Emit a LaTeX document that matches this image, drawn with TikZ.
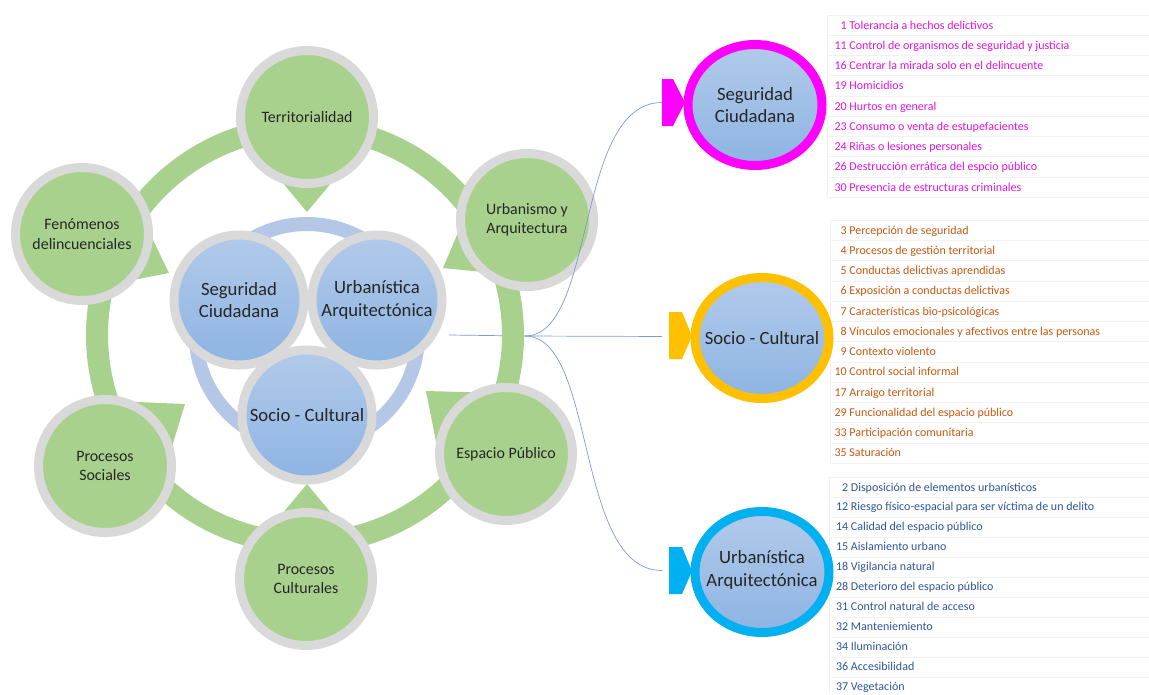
\documentclass[tikz,border=0pt]{standalone}
\usepackage{fontspec}
\setmainfont{Carlito}
\usetikzlibrary{shapes.geometric}
\definecolor{grn}{RGB}{169,209,142}
\definecolor{gry}{RGB}{217,217,217}
\definecolor{bluetop}{RGB}{178,202,234}
\definecolor{bluebot}{RGB}{141,180,226}
\definecolor{bring}{RGB}{180,199,231}
\definecolor{connc}{RGB}{125,155,215}
\definecolor{pinkc}{RGB}{255,0,255}
\definecolor{goldc}{RGB}{255,192,0}
\definecolor{cyanc}{RGB}{0,176,240}
\definecolor{pinkt}{RGB}{225,20,225}
\definecolor{oranget}{RGB}{197,90,17}
\definecolor{bluet}{RGB}{47,85,151}
\begin{document}
\begin{tikzpicture}[x=1pt,y=-1pt,
  greencirc/.style={circle, fill=grn, draw=gry, line width=9pt, minimum size=133pt, inner sep=0pt, align=center, font=\fontsize{15.9}{19.3}\selectfont, text=black!85},
  bluecirc/.style={circle, top color=bluetop, bottom color=bluebot, draw=gry, line width=9pt, minimum size=130pt, inner sep=0pt, align=center, font=\fontsize{18.7}{22.7}\selectfont, text=black!85},
  rightell/.style={ellipse, top color=bluetop, bottom color=bluebot, line width=9pt, minimum width=134pt, minimum height=121pt, inner sep=0pt},
  righttxt/.style={inner sep=0pt, align=center, font=\fontsize{18.7}{22.7}\selectfont, text=black!85},
  tri/.style={fill=grn},
  connline/.style={draw=connc, line width=0.7pt},
  listtxt/.style={anchor=base west, inner sep=0pt, font=\fontsize{12}{14}\selectfont},
  gridl/.style={draw=black!5, line width=0.6pt}
]
\useasboundingbox[fill=white] (0,0) rectangle (1149,694);

% connector stem (under the ring)
\coordinate (cstart) at (449,335);
\coordinate (hub) at (525,336);
\draw[connline] (cstart) -- (hub);

% green ring
\draw[grn, line width=22pt] (305,335) circle[radius=208];

% green pointers
\fill[tri] (307,212) -- (262,158) -- (352,158) -- cycle;
\fill[tri] (169,273) -- (135,203) -- (82,234) -- (97,287) -- cycle;
\fill[tri] (443,268) -- (471,202) -- (527,220) -- (523,276) -- cycle;
\fill[tri] (426,391) -- (500,393) -- (506,454) -- (441,467) -- cycle;
\fill[tri] (185,404) -- (125,401.5) -- (105,466) -- (170,453) -- cycle;
\fill[tri] (307,484) -- (257,544) -- (357,544) -- cycle;

% green circles
\node[greencirc] (terr) at (307,117) {Territorialidad};
\node[greencirc] (fen) at (82,234) {Fenómenos\\delincuenciales};
\node[greencirc] (urb) at (527,220) {Urbanismo y\\Arquitectura};
\node[greencirc] (esp) at (506,454) {Espacio Público};
\node[greencirc] (pcul) at (306,579) {Procesos\\Culturales};
\node[greencirc] (psoc) at (105,466) {Procesos\\Sociales};

% blue ring and centre circles
\draw[bring, line width=14pt] (307,335) circle[radius=111];
\node[bluecirc] (cseg) at (239,300) {Seguridad\\Ciudadana};
\node[bluecirc] (curb) at (377,300) {Urbanística\\Arquitectónica};
\node[bluecirc] (csoc) at (307,415) {Socio - Cultural};

% faint grid lines
\foreach \k in {0,...,9} \draw[gridl] (827,{15+20.25*\k}) -- (1149,{15+20.25*\k});
\draw[gridl] (827,15) -- (827,197);
\foreach \k in {0,...,12} \draw[gridl] (830,{220+20.27*\k}) -- (1149,{220+20.27*\k});
\draw[gridl] (830,220) -- (830,463);
\foreach \k in {0,...,10} \draw[gridl] (829,{477+20*\k}) -- (1149,{477+20*\k});
\draw[gridl] (829,477) -- (829,694);

% tabs
\fill[pinkc] (662,79) -- (673,79) -- (685,102.5) -- (673,126) -- (662,126) -- cycle;
\fill[goldc] (669,312) -- (682,312) -- (692,336) -- (682,359) -- (669,359) -- cycle;
\fill[cyanc] (669,547) -- (682,547) -- (692,571) -- (682,594) -- (669,594) -- cycle;
\coordinate (tabS) at (662,102.5);
\coordinate (tabC) at (669,336.5);
\coordinate (tabU) at (669,570.5);

% right circles
\node[rightell, draw=pinkc] (rseg) at (755,105) {};
\node[righttxt] (rsegt) at (rseg) {Seguridad\\Ciudadana};
\node[rightell, draw=goldc] (rsoc) at (762,338) {};
\node[righttxt] (rsoct) at (rsoc) {Socio - Cultural};
\node[rightell, draw=cyanc] (rurb) at (762,572) {};
\node[righttxt] (rurbt) at ([yshift=2pt]rurb.center) {Urbanística\\Arquitectónica};

% connectors
\draw[connline] (hub) .. controls +(72,0) and +(-88,0) .. (tabS);
\draw[connline, shorten >=7pt] (hub) -- (tabC);
\draw[connline, shorten >=7pt] (hub) .. controls +(72,0) and +(-95,0) .. (tabU);

% lists
\foreach \nn/\tx [count=\i from 0] in {1/Tolerancia a hechos delictivos,
  11/Control de organismos de seguridad y justicia,
  16/Centrar la mirada solo en el delincuente,
  19/Homicidios,
  20/Hurtos en general,
  23/Consumo o venta de estupefacientes,
  24/Riñas o lesiones personales,
  26/Destrucción errática del espcio público,
  30/Presencia de estructuras criminales}
  \node[listtxt, text=pinkt] (ps\i) at (828.5,{29+20.25*\i}) {\makebox[18pt][r]{\nn} \tx};

\foreach \nn/\tx [count=\i from 0] in {3/Percepción de seguridad,
  4/Procesos de gestión territorial,
  5/Conductas delictivas aprendidas,
  6/Exposición a conductas delictivas,
  7/Características bio-psicológicas,
  8/Vínculos emocionales y afectivos entre las personas,
  9/Contexto violento,
  10/Control social informal,
  17/Arraigo territorial,
  29/Funcionalidad del espacio público,
  33/Participación comunitaria,
  35/Saturación}
  \node[listtxt, text=oranget] (sc\i) at (828.5,{234+20.27*\i}) {\makebox[18pt][r]{\nn} \tx};

\foreach \nn/\tx [count=\i from 0] in {2/Disposición de elementos urbanísticos,
  12/Riesgo físico-espacial para ser víctima de un delito,
  14/Calidad del espacio público,
  15/Aislamiento urbano,
  18/Vigilancia natural,
  28/Deterioro del espacio público,
  31/Control natural de acceso,
  32/Manteniemiento,
  34/Iluminación,
  36/Accesibilidad,
  37/Vegetación}
  \node[listtxt, text=bluet] (ua\i) at (830,{491+19.95*\i}) {\makebox[18pt][r]{\nn} \tx};
\end{tikzpicture}
\end{document}
